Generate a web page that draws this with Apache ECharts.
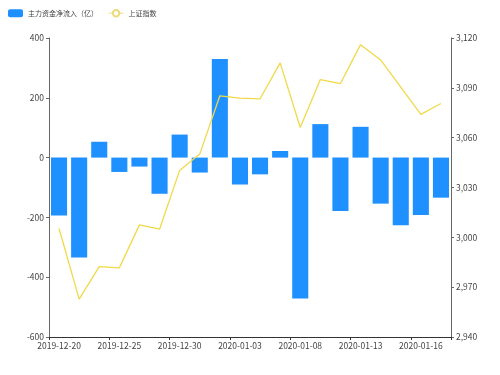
<!DOCTYPE html>
<html><head><meta charset="utf-8">
<script src="https://cdn.jsdelivr.net/npm/echarts@6/dist/echarts.min.js"></script>
<style>html,body{margin:0;padding:0;background:#fff}#c{width:500px;height:375px}</style>
</head><body><div id="c"></div>
<script>
const categories = ['2019-12-20','2019-12-23','2019-12-24','2019-12-25','2019-12-26','2019-12-27','2019-12-30','2019-12-31','2020-01-02','2020-01-03','2020-01-06','2020-01-07','2020-01-08','2020-01-09','2020-01-10','2020-01-13','2020-01-14','2020-01-15','2020-01-16','2020-01-17'];
const netInflow = [-194, -334, 53, -48, -30, -121, 77, -50, 330, -90, -56, 22, -471, 112, -179, 103, -154, -226, -192, -134];
const shIndex = [3005.3, 2962.8, 2982.4, 2981.6, 3007.5, 3004.9, 3040.3, 3050.1, 3085.2, 3083.8, 3083.4, 3105.0, 3066.1, 3095.0, 3092.6, 3116.0, 3106.8, 3090.4, 3074.0, 3080.6];
const seriesNames = ['主力资金净流入（亿）', '上证指数'];

const FONT = '"Noto Sans CJK SC", "Noto Sans", sans-serif';
const chart = echarts.init(document.getElementById('c'), null, {renderer: 'canvas'});
const fmt = v => v.toLocaleString('en-US');
chart.setOption({
  animation: false,
  backgroundColor: '#fff',
  textStyle: {fontFamily: FONT},
  legend: {
    left: 3, top: 4, itemWidth: 15, itemHeight: 8, itemGap: 10,
    textStyle: {fontSize: 7, color: '#444', fontFamily: FONT},
    data: [
      {name: seriesNames[0]},
      {name: seriesNames[1], itemStyle: {color: '#ecd978'}, lineStyle: {color: '#f3e49a', width: 1.2}}
    ]
  },
  grid: {left: 49, right: 49, top: 38, bottom: 38},
  xAxis: [{
    type: 'category', data: categories, position: 'bottom',
    axisLine: {show: false}, axisTick: {show: false},
    axisLabel: {interval: 2, fontSize: 8.5, color: '#444', margin: 5, fontFamily: FONT}
  }, {
    type: 'category', data: categories, position: 'bottom', gridIndex: 0,
    axisLine: {show: true, onZero: true, lineStyle: {color: '#333', width: 1}},
    axisTick: {show: true, interval: 2, length: 3, lineStyle: {color: '#333'}},
    axisLabel: {show: false}
  }],
  yAxis: [{
    type: 'value', min: -600, max: 400, interval: 200,
    axisLine: {show: true, lineStyle: {color: '#666'}},
    axisTick: {show: true, length: 3},
    splitLine: {show: false},
    axisLabel: {fontSize: 8.5, color: '#444', margin: 5, fontFamily: FONT}
  }, {
    type: 'value', min: 2940, max: 3120, interval: 30, position: 'right',
    axisLine: {show: true, lineStyle: {color: '#666'}},
    axisTick: {show: true, length: 3},
    splitLine: {show: false},
    axisLabel: {fontSize: 8.5, color: '#444', margin: 5, fontFamily: FONT, formatter: fmt}
  }],
  series: [{
    name: seriesNames[0], type: 'bar', data: netInflow, xAxisIndex: 0, yAxisIndex: 0,
    barCategoryGap: '20%',
    itemStyle: {color: '#1e90ff'}
  }, {
    name: seriesNames[1], type: 'line', data: shIndex, xAxisIndex: 0, yAxisIndex: 1,
    showSymbol: false, symbol: 'emptyCircle', symbolSize: 6,
    lineStyle: {color: '#f0d94a', width: 1.3},
    itemStyle: {color: '#f0d94a'}
  }]
});
</script></body></html>
